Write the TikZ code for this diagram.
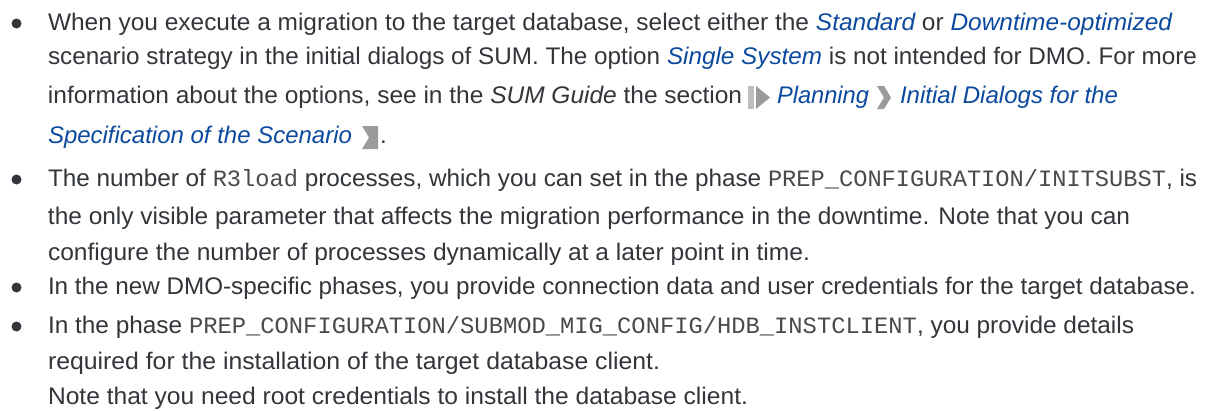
\documentclass[tikz,border=0pt]{standalone}
\usepackage{fontspec}
\setmainfont{Liberation Sans}
\setmonofont{Liberation Mono}
\usepackage{graphicx}
\definecolor{txt}{HTML}{32363A}
\definecolor{lnk}{HTML}{0B4A9E}
\definecolor{ico}{HTML}{9B9B9B}
\definecolor{icol}{HTML}{BDBDBD}
\definecolor{mono}{HTML}{4A4A4A}
\newcommand{\lk}[1]{{\color{lnk}\itshape #1}}
\newcommand{\cd}[1]{{\fontsize{23.4}{26}\selectfont\ttfamily\color{mono}#1}}
\newcommand{\fitw}[2]{\resizebox{#1pt}{\height}{#2}}
\tikzset{
  ln/.style={anchor=base west, inner sep=0pt, outer sep=0pt, text=txt, font=\fontsize{24}{28}\selectfont},
  bul/.style={circle, fill=txt, minimum size=10pt, inner sep=0pt},
  icon/.style={fill=ico},
  iconl/.style={fill=icol}
}
\begin{document}
\begin{tikzpicture}[x=1pt,y=-1pt]
\useasboundingbox (0,0) rectangle (1207,410);
\fill[white] (0,0) rectangle (1207,410);
% bullet 1
\node[bul] (b1) at (16.5,23.5) {};
\node[ln] (l1) at (48,30) {\fitw{1124}{When you execute a migration to the target database, select either the \lk{Standard} or \lk{Downtime-optimized}}};
\node[ln] (l2) at (48,64) {\fitw{1149}{scenario strategy in the initial dialogs of SUM. The option \lk{Single System} is not intended for DMO. For more}};
\node[ln] (l3a) at (48,103) {\fitw{694}{information about the options, see in the \textit{SUM Guide} the section}};
\fill[iconl] (748,86) rectangle (754,109);
\fill[icon] (756,86) -- (770,97.5) -- (756,109) -- cycle;
\node[ln] (l3b) at (777,103) {\fitw{92}{\lk{Planning}}};
\fill[icon] (877,86) -- (884,86) -- (891,97.5) -- (884,109) -- (877,109) -- (884,97.5) -- cycle;
\node[ln] (l3c) at (900,103) {\fitw{218}{\lk{Initial Dialogs for the}}};
\node[ln] (l4a) at (48,143) {\fitw{304}{\lk{Specification of the Scenario}}};
\fill[icon] (362,126) -- (378,126) -- (378,149) -- (362,149) -- (369,137.5) -- cycle;
\node[ln] (l4b) at (380,143) {.};
% bullet 2
\node[bul] (b2) at (16.5,179.5) {};
\node[ln] (l5) at (48,186) {\fitw{1149}{The number of \cd{R3load} processes, which you can set in the phase \cd{PREP\_CONFIGURATION/INITSUBST}, is}};
\node[ln] (l6) at (48,224) {\fitw{1082}{the only visible parameter that affects the migration performance in the downtime. Note that you can}};
\node[ln] (l7) at (48,260) {\fitw{762}{configure the number of processes dynamically at a later point in time.}};
% bullet 3
\node[bul] (b3) at (16.5,287.5) {};
\node[ln] (l8) at (48,294) {\fitw{1148}{In the new DMO-specific phases, you provide connection data and user credentials for the target database.}};
% bullet 4
\node[bul] (b4) at (16.5,326.5) {};
\node[ln] (l9) at (48,333) {\fitw{1086}{In the phase \cd{PREP\_CONFIGURATION/SUBMOD\_MIG\_CONFIG/HDB\_INSTCLIENT}, you provide details}};
\node[ln] (l10) at (48,369) {\fitw{612}{required for the installation of the target database client.}};
\node[ln] (l11) at (48,404) {\fitw{700}{Note that you need root credentials to install the database client.}};
\end{tikzpicture}
\end{document}
